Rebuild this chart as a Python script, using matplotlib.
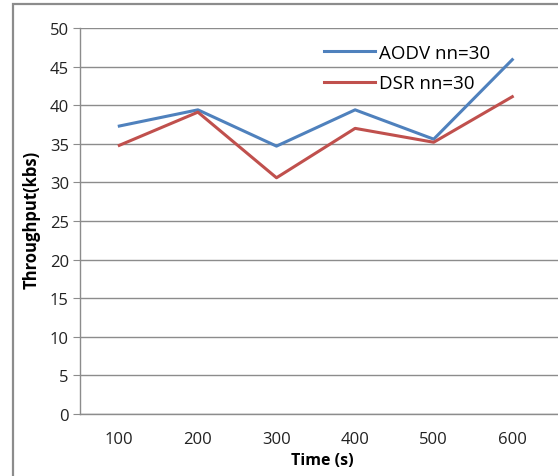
import matplotlib
matplotlib.use('Agg')
from matplotlib import pyplot as plt
from matplotlib.patches import Rectangle

# chart data
times = ['100', '200', '300', '400', '500', '600']
aodv = [37.3, 39.4, 34.7, 39.4, 35.6, 45.9]
dsr = [34.8, 39.1, 30.6, 37.0, 35.2, 41.1]
yticks = [0, 5, 10, 15, 20, 25, 30, 35, 40, 45, 50]

plt.rcParams['font.family'] = ['Open Sans', 'DejaVu Sans']

W, H = 558, 477
fig = plt.figure(figsize=(W / 100, H / 100), dpi=100)

# outer chart border (cropped on right and bottom)
fig.patches.append(Rectangle((13 / W, -0.1), 1.2, 1 - 4.5 / H + 0.1,
                             transform=fig.transFigure, fill=False,
                             edgecolor='#8c8c8c', linewidth=1.6))

ax = fig.add_axes([80 / W, 62 / H, (566 - 80) / W, 386 / H])
x = list(range(1, len(times) + 1))
ax.plot(x, aodv, color='#4F81BD', linewidth=2.2, label='AODV nn=30')
ax.plot(x, dsr, color='#C0504D', linewidth=2.2, label='DSR nn=30')

ax.set_xlim(0.5, 0.5 + (566 - 80) / 78.6)
ax.set_ylim(0, 50)
ax.set_yticks(yticks)
ax.set_xticks(x)
ax.set_xticklabels(times)
ax.grid(axis='y', color='#8c8c8c', linewidth=1)
ax.set_axisbelow(True)
for s in ['top', 'right']:
    ax.spines[s].set_visible(False)
for s in ['left', 'bottom']:
    ax.spines[s].set_color('#8c8c8c')
    ax.spines[s].set_linewidth(1)
ax.tick_params(axis='y', length=5, color='#8c8c8c', labelsize=12, pad=3, labelcolor='#222222')
ax.tick_params(axis='x', length=0, labelsize=12, pad=12, labelcolor='#222222')

ax.set_xlabel('Time (s)', fontsize=11.5, fontweight='bold')
ax.set_ylabel('Throughput(kbs)', fontsize=12, fontweight='bold')
ax.xaxis.set_label_coords((322 - 80) / (566 - 80), -(453 - 415) / 386)
ax.yaxis.set_label_coords(-(80 - 41) / (566 - 80), (415 - 220) / 386)

ax.legend(loc='upper left', bbox_to_anchor=(307 / W, 1 - 28 / H),
          bbox_transform=fig.transFigure, frameon=False, fontsize=13.5,
          handlelength=2.7, handletextpad=0.25, labelspacing=0.65)

fig.savefig('out.png', dpi=100)
